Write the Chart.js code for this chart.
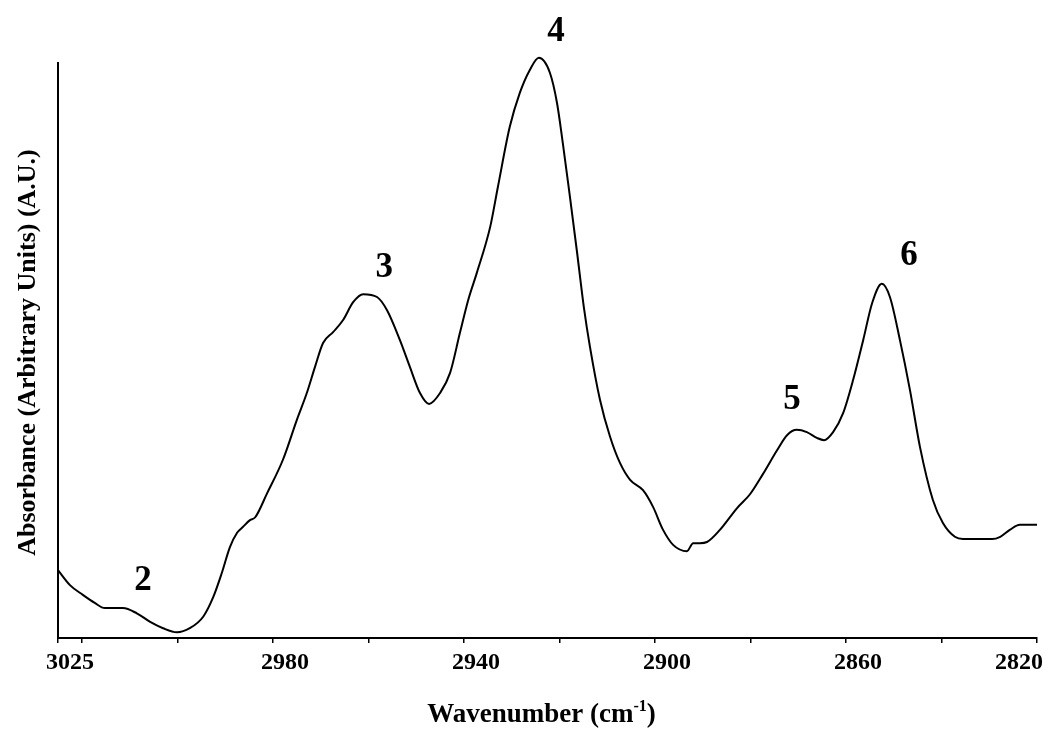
<!DOCTYPE html>
<html>
<head>
<meta charset="utf-8">
<title>C–H stretching region absorbance</title>
<script src="https://cdn.jsdelivr.net/npm/chart.js@4.4.1/dist/chart.umd.min.js"></script>
<style>
  html, body { margin: 0; padding: 0; background: #ffffff; }
  canvas { display: block; }
</style>
</head>
<body>
<canvas id="spectrum" width="1049" height="731"></canvas>
<script>
// Wavenumber (cm-1), descending, and absorbance in arbitrary units (0-100 on the axis)
const wavenumbers = [
  3025.0, 3022.5, 3019.8, 3017.3, 3015.2, 3011.4, 3008.5, 3005.7, 3003.0, 3000.1,
  2997.4, 2994.6, 2992.5, 2990.7, 2989.0, 2987.5, 2986.3, 2984.8, 2983.7, 2981.2,
  2977.9, 2975.0, 2972.9, 2971.2, 2969.5, 2967.4, 2965.3, 2963.2, 2961.1, 2958.2,
  2956.1, 2953.4, 2951.3, 2949.2, 2947.3, 2945.0, 2942.9, 2940.8, 2939.1, 2937.3,
  2934.5, 2932.9, 2930.4, 2928.3, 2926.2, 2924.3, 2922.0, 2920.5, 2919.3, 2917.8,
  2916.3, 2914.9, 2913.6, 2911.5, 2909.4, 2907.3, 2905.2, 2902.5, 2900.4, 2898.3,
  2896.2, 2893.3, 2892.0, 2890.6, 2889.1, 2886.4, 2882.8, 2880.1, 2877.4, 2874.4,
  2872.3, 2870.3, 2868.2, 2866.1, 2864.6, 2862.7, 2860.6, 2858.5, 2856.4, 2854.5,
  2852.5, 2850.8, 2848.7, 2846.6, 2844.5, 2841.8, 2839.7, 2837.2, 2835.5, 2829.4,
  2827.7, 2825.7, 2823.6, 2820.0
];
const absorbance = [
  11.8, 9.2, 7.5, 6.1, 5.2, 5.2, 4.3, 2.8, 1.7, 1.0,
  1.7, 3.7, 7.1, 11.3, 15.8, 18.3, 19.3, 20.5, 21.0, 25.2,
  31.0, 37.9, 42.6, 47.1, 51.3, 53.2, 55.3, 58.4, 59.8, 59.3,
  57.0, 51.8, 47.1, 42.6, 40.7, 42.6, 46.1, 53.2, 58.8, 63.5,
  71.5, 78.4, 88.9, 94.8, 98.8, 100.9, 98.3, 93.0, 86.1, 76.7,
  67.0, 57.6, 50.6, 41.4, 35.0, 30.4, 27.5, 25.7, 22.8, 18.8,
  16.2, 15.1, 16.5, 16.5, 16.7, 18.8, 22.6, 25.0, 28.5, 32.7,
  35.3, 36.2, 35.8, 34.8, 34.4, 35.8, 39.1, 44.9, 51.8, 58.3,
  61.6, 59.3, 51.8, 43.1, 33.2, 24.0, 20.0, 17.6, 17.2, 17.2,
  17.6, 18.8, 19.7, 19.7
];

// Band numbers and where they sit (wavenumber, baseline height in axis units)
const peakNumbers = ['2', '3', '4', '5', '6'];
const peakWavenumbers = [3007.2, 2956.7, 2920.7, 2871.3, 2846.8];
const peakLabelLevels = [8.3, 62.8, 103.8, 39.8, 64.9];

// Tick marks along the wavenumber axis, and the ones that carry a label
const tickValues = [3025, 3020, 3000, 2980, 2960, 2940, 2920, 2900, 2880, 2860, 2840, 2820];
const tickLabels = ['3025', '2980', '2940', '2900', '2860', '2820'];

const xTitle = 'Wavenumber (cm';
const xTitleSup = '-1';
const yTitle = 'Absorbance (Arbitrary Units) (A.U.)';

const SERIF = '"Liberation Serif", "Times New Roman", "DejaVu Serif", serif';

const textLayer = {
  id: 'textLayer',
  afterDraw(chart) {
    const ctx = chart.ctx;
    const xs = chart.scales.x;
    const ys = chart.scales.y;
    const area = chart.chartArea;
    ctx.save();
    ctx.fillStyle = '#000';

    // tick labels, set slightly right of their ticks, kept inside the canvas
    ctx.font = 'bold 24px ' + SERIF;
    ctx.textAlign = 'center';
    ctx.textBaseline = 'alphabetic';
    tickLabels.forEach(t => {
      const w = ctx.measureText(t).width;
      let cx = xs.getPixelForValue(Number(t)) + 12;
      if (cx + w / 2 > chart.width - 6) cx = chart.width - 6 - w / 2;
      ctx.fillText(t, cx, area.bottom + 31);
    });

    // x axis title with superscript
    const mid = (area.left + area.right) / 2 - 6;
    ctx.font = 'bold 27px ' + SERIF;
    const wMain = ctx.measureText(xTitle).width;
    const wClose = ctx.measureText(')').width;
    ctx.font = 'bold 16px ' + SERIF;
    const wSup = ctx.measureText(xTitleSup).width;
    const total = wMain + wSup + wClose;
    let x0 = mid - total / 2;
    const base = area.bottom + 84;
    ctx.textAlign = 'left';
    ctx.font = 'bold 27px ' + SERIF;
    ctx.fillText(xTitle, x0, base);
    ctx.font = 'bold 16px ' + SERIF;
    ctx.fillText(xTitleSup, x0 + wMain, base - 11);
    ctx.font = 'bold 27px ' + SERIF;
    ctx.fillText(')', x0 + wMain + wSup, base);

    // y axis title
    ctx.save();
    ctx.translate(35, (area.top + area.bottom) / 2 + 2);
    ctx.rotate(-Math.PI / 2);
    ctx.font = 'bold 26px ' + SERIF;
    ctx.textAlign = 'center';
    ctx.textBaseline = 'alphabetic';
    ctx.fillText(yTitle, 0, 0);
    ctx.restore();

    // band numbers
    ctx.font = 'bold 35px ' + SERIF;
    ctx.textAlign = 'center';
    ctx.textBaseline = 'alphabetic';
    peakNumbers.forEach((label, i) => {
      ctx.fillText(label, xs.getPixelForValue(peakWavenumbers[i]), ys.getPixelForValue(peakLabelLevels[i]));
    });
    ctx.restore();
  }
};

new Chart(document.getElementById('spectrum'), {
  type: 'line',
  data: {
    datasets: [{
      data: wavenumbers.map((w, i) => ({ x: w, y: absorbance[i] })),
      borderColor: '#000',
      borderWidth: 2,
      pointRadius: 0,
      fill: false,
      cubicInterpolationMode: 'monotone',
      clip: false
    }]
  },
  options: {
    responsive: false,
    animation: false,
    events: [],
    layout: { padding: { left: 58, right: 12, top: 63, bottom: 93 } },
    plugins: { legend: { display: false }, tooltip: { enabled: false } },
    scales: {
      x: {
        type: 'linear',
        reverse: true,
        min: 2820,
        max: 3025,
        afterBuildTicks: s => { s.ticks = tickValues.map(v => ({ value: v })); },
        afterFit: s => { s.height = 0; },
        ticks: { display: false },
        grid: { drawOnChartArea: false, drawTicks: true, tickLength: 5, color: '#000', lineWidth: 1.5 },
        border: { display: true, color: '#000', width: 2 }
      },
      y: {
        min: 0,
        max: 100,
        afterFit: s => { s.width = 0; },
        ticks: { display: false },
        grid: { display: false },
        border: { display: true, color: '#000', width: 2 }
      }
    }
  },
  plugins: [textLayer]
});
</script>
</body>
</html>
